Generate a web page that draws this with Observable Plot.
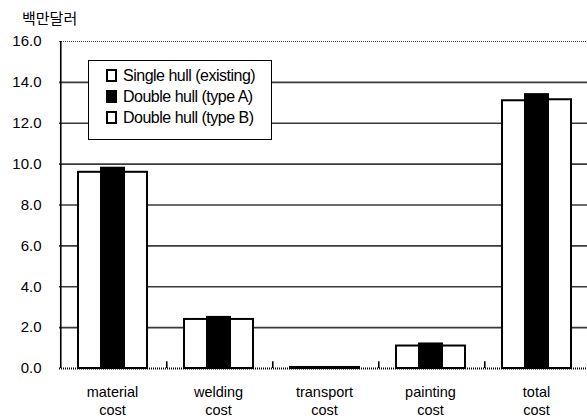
<!DOCTYPE html>
<html>
<head>
<meta charset="utf-8">
<script src="https://cdn.jsdelivr.net/npm/d3@7"></script>
<script src="https://cdn.jsdelivr.net/npm/@observablehq/plot@0.6"></script>
<style>
  body { margin: 0; background: #fff; }
  #wrap { position: relative; width: 587px; height: 419px; overflow: hidden; font-family: "Liberation Sans", Arial, sans-serif; }
  #unit { height: 30px; position: relative; }
  #unit span { position: absolute; left: 22px; top: 10px; font: 15px/15px "Noto Sans CJK KR", sans-serif; color: #000; }
  #legend { position: absolute; left: 88px; top: 60px; width: 182px; height: 74px; background: #fff; border: 1.5px solid #000; padding-top: 4px; box-sizing: content-box; }
  .row { height: 21px; display: flex; align-items: center; }
  .sw { width: 7px; height: 9px; border: 2px solid #000; margin-left: 17px; margin-right: 6px; background: #fff; }
  .lbl { font: 16px "Liberation Sans", Arial, sans-serif; letter-spacing: -0.5px; color: #000; white-space: nowrap; }
</style>
</head>
<body>
<div id="wrap">
  <div id="unit"><span></span></div>
  <div id="chart"></div>
  <div id="legend"></div>
</div>
<script>
// ---- data ----
const unitLabel = "백만달러";
const categories = ["material cost", "welding cost", "transport cost", "painting cost", "total cost"];
const series = ["Single hull (existing)", "Double hull (type A)", "Double hull (type B)"];
const singleHull = [9.6, 2.4, 0.05, 1.1, 13.1];
const doubleHullA = [9.8, 2.5, 0.05, 1.2, 13.4];
const doubleHullB = [9.6, 2.4, 0.05, 1.1, 13.15];
const yTicks = [0, 2, 4, 6, 8, 10, 12, 14, 16];

// ---- table ----
const seriesValues = [singleHull, doubleHullA, doubleHullB];
const table = categories.flatMap((c, i) =>
  series.map((s, j) => ({category: c, series: s, value: seriesValues[j][i], dark: j === 1}))
);

// ---- layout ----
const W = 587, H = 389, mL = 58, mR = -3, mT = 11, mB = 51;
const pOuter = 0.72;
const bw = (W - mL - mR) / categories.length;
const step = bw / (series.length + 2 * pOuter);
const edgeDx = -(pOuter * step + step / 2);

document.querySelector("#unit span").textContent = unitLabel;

const chart = Plot.plot({
  width: W, height: H,
  marginLeft: mL, marginRight: mR, marginTop: mT, marginBottom: mB,
  style: {fontFamily: "Liberation Sans, Arial, sans-serif", fontSize: "15px", color: "#000", background: "transparent", overflow: "visible"},
  fx: {domain: categories, padding: 0, axis: null},
  x: {domain: series, paddingInner: 0, paddingOuter: pOuter, align: 0.5, axis: null},
  y: {domain: [0, 16], axis: null},
  marks: [
    Plot.ruleY(yTicks.filter(t => t > 0 && t < 16), {stroke: "#3a3a3a", strokeWidth: 1.6}),
    Plot.ruleY([16], {stroke: "#444", strokeWidth: 1, strokeDasharray: "1,1"}),
    Plot.barY(table.filter(d => !d.dark), {fx: "category", x: "series", y: "value", fill: "white", stroke: "black", strokeWidth: 2}),
    Plot.barY(table.filter(d => d.dark), {fx: "category", x: "series", y: "value", fill: "black", stroke: "black", strokeWidth: 2}),
    Plot.ruleY([0], {stroke: "#000", strokeWidth: 2, strokeDasharray: "1,1"}),
    Plot.ruleX(categories, {fx: d => d, x: () => series[0], y1: 0, y2: d => d === categories[0] ? 16 : 0.33, dx: edgeDx, stroke: "#000", strokeWidth: 1.6}),
    Plot.axisY({ticks: yTicks, tickSize: 0, tickPadding: 18, tickFormat: d => d.toFixed(1), fontSize: 15, label: null}),
    Plot.text(categories, {fx: d => d, text: d => d.replace(" ", "\n"), frameAnchor: "bottom", lineAnchor: "top", dy: 16, lineHeight: 1.22, fontSize: 14.5, fill: "#000"})
  ]
});
document.getElementById("chart").appendChild(chart);

// ---- legend ----
const legend = document.getElementById("legend");
series.forEach((s, j) => {
  const row = document.createElement("div");
  row.className = "row";
  const sw = document.createElement("div");
  sw.className = "sw";
  if (j === 1) sw.style.background = "#000";
  const lbl = document.createElement("span");
  lbl.className = "lbl";
  lbl.textContent = s;
  row.appendChild(sw); row.appendChild(lbl);
  legend.appendChild(row);
});
</script>
</body>
</html>
